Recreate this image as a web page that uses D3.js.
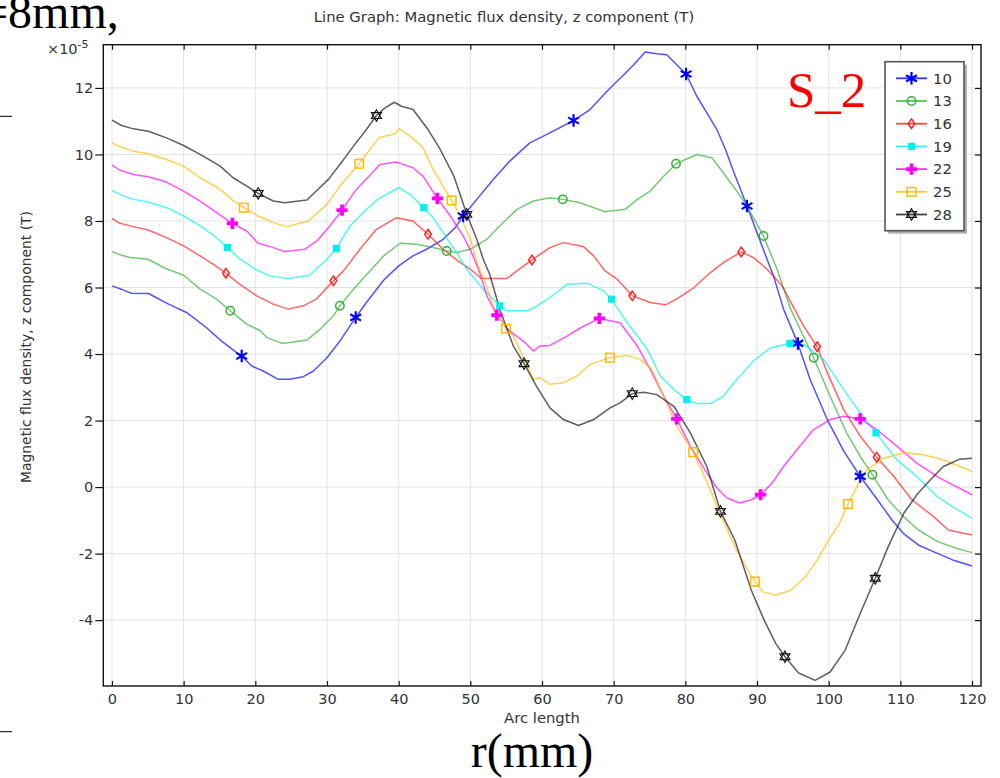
<!DOCTYPE html>
<html>
<head>
<meta charset="utf-8">
<script src="https://cdn.jsdelivr.net/npm/d3@7"></script>
<style>
  html, body { margin: 0; padding: 0; background: #fff; }
  svg { display: block; }
  text { font-family: "DejaVu Sans", sans-serif; fill: #333; }
  .serif { font-family: "Liberation Serif", "Times New Roman", serif; }
</style>
</head>
<body>
<svg id="chart" width="1000" height="778"></svg>
<script>
// ---- data: arc length (mm) vs. Bz (×1e-5 T), one array per series ----
const seriesLabels = ["10", "13", "16", "19", "22", "25", "28"];
const seriesColors = ["#0000ff", "#33b033", "#ff1a1a", "#00f0f0", "#ff00ff", "#ffbb00", "#111111"];
const markerShapes = ["asterisk", "circle", "diamond", "squareFilled", "crossFilled", "squareOpen", "hexagram"];

const curve10 = [[0,6.05],[1.3,5.95],[2.65,5.83],[5.1,5.82],[7.9,5.5],[10.4,5.25],[13.2,4.79],[15.3,4.39],[17.4,4.04],[18.1,3.94],[19.5,3.64],[21.1,3.49],[23.2,3.24],[24.8,3.24],[26.7,3.32],[28.1,3.49],[30,3.89],[31.8,4.39],[34,5.1],[35.5,5.55],[37.9,6.22],[40,6.65],[42,6.95],[43.9,7.15],[46.2,7.45],[47.9,7.8],[49,8.15],[50.9,8.65],[53.2,9.25],[55.5,9.8],[58.3,10.35],[61.1,10.65],[64.4,11.02],[66.7,11.35],[69.5,12.0],[71.2,12.35],[72.8,12.7],[74.4,13.08],[76,13.03],[77.4,13.0],[78.8,12.7],[80.1,12.42],[81.6,11.75],[83,11.25],[84.4,10.75],[85.6,10.15],[86.7,9.5],[88.6,8.45],[90,7.65],[91.4,6.85],[92.3,6.35],[93.7,5.35],[95.7,4.32],[97.4,3.24],[99.8,2.03],[102.1,1.08],[104.4,0.32],[106.8,-0.38],[108.8,-0.98],[110.4,-1.39],[112.5,-1.74],[114.6,-1.94],[117.3,-2.19],[120,-2.37]];
const curve13 = [[0,7.08],[1.2,6.98],[2.5,6.9],[5.07,6.85],[7.4,6.58],[10,6.37],[12.3,5.95],[14.6,5.65],[16.5,5.3],[18.8,4.9],[20.7,4.7],[21.6,4.5],[23.7,4.32],[25.3,4.36],[27.2,4.42],[29,4.74],[30.9,5.15],[31.8,5.45],[33.7,5.95],[35.8,6.45],[37.9,6.95],[40.2,7.33],[42.5,7.3],[44.8,7.2],[46.7,7.1],[48.1,7.05],[50,7.15],[52.3,7.45],[54.1,7.85],[56.5,8.35],[58.8,8.6],[61.1,8.7],[62.9,8.65],[65.3,8.55],[68.8,8.28],[71.6,8.35],[73.3,8.65],[75.1,8.9],[77,9.35],[78.7,9.72],[81.6,10.0],[83.7,9.9],[85.3,9.45],[87,8.95],[88.6,8.45],[90.9,7.55],[92.8,6.55],[94.7,5.35],[97.9,3.89],[100.2,2.73],[102.5,1.63],[104.4,0.92],[106.1,0.37],[108.3,-0.38],[110.4,-0.88],[112.5,-1.29],[115.2,-1.64],[117.8,-1.84],[120,-1.97]];
const curve16 = [[0,8.08],[1.1,7.93],[3,7.83],[5.07,7.73],[7.6,7.5],[10,7.25],[12.3,6.95],[14.1,6.7],[15.9,6.43],[17.8,6.1],[20.2,5.75],[22.5,5.5],[24.6,5.35],[26.7,5.45],[28.5,5.65],[30.9,6.2],[32.3,6.5],[34.6,7.15],[36.9,7.75],[39.7,8.1],[42,8.0],[44.1,7.6],[46.2,7.15],[48.6,6.75],[50,6.55],[51.5,6.28],[55.1,6.27],[56.5,6.5],[58.6,6.83],[61.1,7.2],[63,7.35],[65.8,7.23],[67.2,6.95],[68.8,6.5],[70.5,6.25],[72.6,5.75],[75.1,5.55],[77.2,5.48],[78.8,5.65],[81.2,6.0],[83.5,6.45],[85.3,6.75],[87.8,7.07],[89.5,6.9],[91.4,6.55],[93.5,6.05],[96.5,4.84],[98.4,4.22],[99.8,3.44],[102.1,2.33],[104.4,1.53],[106.7,0.9],[109.1,0.32],[111.6,-0.38],[114.6,-0.88],[116.7,-1.29],[120,-1.44]];
const curve19 = [[0,8.92],[1.1,8.8],[3,8.65],[5.07,8.57],[7.6,8.4],[10,8.15],[12.3,7.85],[14.6,7.5],[16.1,7.2],[17.9,6.85],[20,6.55],[22,6.35],[24.6,6.27],[27.6,6.37],[30,6.85],[31.3,7.17],[33.2,7.85],[35.5,8.35],[37.2,8.67],[40,9.0],[41.6,8.8],[43.5,8.4],[44.8,8.1],[46.2,7.65],[48.1,7.05],[49.5,6.55],[51.8,5.95],[54.1,5.45],[55.1,5.3],[57.8,5.3],[58.8,5.37],[61.1,5.7],[63.5,6.1],[66.3,6.13],[68.6,5.9],[69.7,5.65],[71.9,4.94],[74.7,4.14],[76.5,3.34],[78.4,2.93],[80.2,2.63],[81.6,2.51],[83.5,2.51],[85.3,2.73],[87.2,3.24],[89.5,3.79],[91.9,4.19],[94.6,4.32],[96.5,4.29],[99.3,3.84],[102.1,2.93],[104.4,2.23],[106.6,1.63],[109.5,0.82],[112.3,0.32],[115.1,-0.28],[117.5,-0.62],[120,-0.93]];
const curve22 = [[0,9.68],[1.1,9.53],[3,9.4],[5.07,9.33],[7.6,9.17],[10,8.9],[12.3,8.6],[14.6,8.25],[16.8,7.93],[18.8,7.7],[20.4,7.33],[22.5,7.2],[24.1,7.08],[26.9,7.15],[28.6,7.4],[30.4,7.85],[32.1,8.33],[34.1,8.95],[37.4,9.7],[39.7,9.77],[42,9.6],[43.4,9.35],[45.4,8.68],[47.2,8.15],[49,7.55],[50.4,6.95],[51.3,6.45],[52.3,5.75],[53.7,5.17],[55.5,4.69],[57.4,4.39],[58.8,4.09],[59.7,4.24],[61.1,4.26],[63.5,4.54],[65.4,4.79],[68,5.07],[70.9,4.94],[73.3,4.24],[75.1,3.54],[77,2.73],[78.8,2.05],[80.7,1.23],[83,0.42],[84.5,-0.05],[85.8,-0.33],[87.6,-0.48],[89.2,-0.38],[90.5,-0.23],[92.1,0.12],[93.7,0.62],[95.6,1.13],[97.9,1.73],[100.2,2.03],[102.1,2.13],[104.4,2.05],[106.7,1.73],[109.5,1.23],[112.3,0.72],[115.5,0.27],[120,-0.23]];
const curve25 = [[0,10.35],[1.1,10.23],[3,10.1],[5.07,10.02],[7.6,9.85],[10,9.65],[12.3,9.3],[15.1,8.95],[16.7,8.65],[18.4,8.4],[20.4,8.15],[22.5,7.95],[24.4,7.83],[27.4,8.0],[30,8.5],[31.8,9.05],[34.5,9.72],[37.2,10.5],[39.5,10.62],[40.1,10.77],[41.6,10.55],[43.4,10.2],[44.8,9.55],[46.2,9.05],[47.4,8.62],[48.6,8.15],[50,7.45],[51.1,6.65],[51.8,6.3],[53.2,5.45],[55,4.76],[56,4.54],[57.4,3.9],[58.8,3.24],[59.7,3.29],[61.1,3.09],[63,3.14],[64.9,3.34],[66.7,3.69],[69.5,3.89],[71.9,3.96],[73.7,3.84],[75.3,3.54],[77,2.73],[78.8,1.83],[81.1,1.05],[82.7,0.3],[84,-0.35],[84.8,-0.78],[86.9,-1.79],[88.7,-2.49],[89.7,-2.84],[90.8,-3.15],[92.6,-3.25],[94.7,-3.1],[96.8,-2.69],[98.4,-2.19],[100,-1.59],[101.5,-1.09],[102.7,-0.51],[104.2,0.12],[105.3,0.52],[107.7,0.87],[110.5,1.03],[113.2,0.97],[116,0.82],[120,0.47]];
const curve28 = [[0,11.03],[1.35,10.87],[3,10.77],[5.07,10.7],[7.6,10.5],[10,10.27],[12.3,10.0],[15.1,9.65],[16.9,9.3],[18.8,9.05],[20.4,8.83],[22.5,8.6],[24.1,8.55],[27.2,8.63],[28.1,8.82],[30.2,9.25],[31.8,9.7],[33.7,10.25],[35.5,10.75],[36.9,11.17],[38.1,11.4],[39.4,11.57],[40.4,11.45],[42,11.35],[44.1,10.75],[45.8,10.15],[47.7,9.35],[49.5,8.2],[50.9,7.45],[51.8,6.85],[52.7,6.4],[54.1,5.35],[56,4.24],[57.5,3.71],[59.2,3.04],[61.1,2.38],[63,2.03],[65.1,1.85],[67.2,2.03],[69.5,2.38],[70.9,2.53],[72.6,2.81],[74.2,2.85],[76,2.78],[78.4,2.43],[80.7,1.63],[83,0.62],[84.9,-0.73],[86.9,-1.59],[89.2,-3.1],[91,-4.0],[92.6,-4.7],[93.9,-5.1],[95.8,-5.59],[98.1,-5.81],[100.2,-5.56],[102.3,-4.9],[104.4,-3.8],[106.5,-2.74],[108.3,-1.79],[110.5,-0.78],[112.4,-0.2],[114.2,0.22],[116,0.62],[118.3,0.84],[120,0.87]];

// arc-length positions of the plot markers along each curve
const markers10 = [18.1, 34.0, 49.0, 64.4, 80.1, 88.6, 95.7, 104.4];
const markers13 = [16.5, 31.8, 46.7, 62.9, 78.7, 90.9, 97.9, 106.1];
const markers16 = [15.9, 30.9, 44.1, 58.6, 72.6, 87.8, 98.4, 106.7];
const markers19 = [16.1, 31.3, 43.5, 54.1, 69.7, 80.2, 94.6, 106.6];
const markers22 = [16.8, 32.1, 45.4, 53.7, 68.0, 78.8, 90.5, 104.4];
const markers25 = [18.4, 34.5, 47.4, 55.0, 69.5, 81.1, 89.7, 102.7];
const markers28 = [20.4, 36.9, 49.5, 57.5, 72.6, 84.9, 93.9, 106.5];

const xTickValues = [0, 10, 20, 30, 40, 50, 60, 70, 80, 90, 100, 110, 120];
const yTickValues = [-4, -2, 0, 2, 4, 6, 8, 10, 12];

const curves = [curve10, curve13, curve16, curve19, curve22, curve25, curve28];
const markerSets = [markers10, markers13, markers16, markers19, markers22, markers25, markers28];

// ---- layout ----
const svg = d3.select("#chart");
const plot = { left: 103.3, right: 981, top: 44.7, bottom: 686 };

const x = d3.scaleLinear().domain([-1.21, 121.25]).range([plot.left, plot.right]);
const y = d3.scaleLinear().domain([-5.98, 13.3]).range([plot.bottom, plot.top]);

svg.append("rect").attr("width", 1000).attr("height", 778).attr("fill", "#fff");

// grid
const grid = svg.append("g").attr("stroke", "#e3e3e3").attr("stroke-width", 1);
grid.selectAll(".vx").data(xTickValues).join("line")
  .attr("x1", d => x(d)).attr("x2", d => x(d))
  .attr("y1", plot.top).attr("y2", plot.bottom);
grid.selectAll(".hy").data(yTickValues).join("line")
  .attr("x1", plot.left).attr("x2", plot.right)
  .attr("y1", d => y(d)).attr("y2", d => y(d));

// clip for curves
svg.append("defs").append("clipPath").attr("id", "plotClip")
  .append("rect").attr("x", plot.left).attr("y", plot.top)
  .attr("width", plot.right - plot.left).attr("height", plot.bottom - plot.top);

// marker symbol drawing
function hexagramPath(r) {
  const pts = a => d3.range(3).map(i => {
    const t = (a + i * 120) * Math.PI / 180;
    return [r * Math.cos(t), r * Math.sin(t)];
  });
  const tri = p => "M" + p.map(q => q[0].toFixed(2) + "," + q[1].toFixed(2)).join("L") + "Z";
  return tri(pts(-90)) + tri(pts(90));
}
function drawMarker(sel, shape, color) {
  switch (shape) {
    case "asterisk":
      sel.append("path").attr("d", d3.symbol(d3.symbolAsterisk, 110)())
        .attr("fill", "none").attr("stroke", color).attr("stroke-width", 2.2);
      break;
    case "circle":
      sel.append("circle").attr("r", 4.2).attr("fill", "none")
        .attr("stroke", color).attr("stroke-width", 1.5);
      break;
    case "diamond":
      sel.append("path").attr("d", "M0,-4.8L3.4,0L0,4.8L-3.4,0Z")
        .attr("fill", "none").attr("stroke", color).attr("stroke-width", 1.4);
      break;
    case "squareFilled":
      sel.append("rect").attr("x", -3.6).attr("y", -3.6).attr("width", 7.2).attr("height", 7.2)
        .attr("fill", color);
      break;
    case "crossFilled":
      sel.append("path").attr("d", d3.symbol(d3.symbolCross, 70)()).attr("fill", color);
      break;
    case "squareOpen":
      sel.append("rect").attr("x", -4.3).attr("y", -4.3).attr("width", 8.6).attr("height", 8.6)
        .attr("fill", "none").attr("stroke", color).attr("stroke-width", 1.5);
      break;
    case "hexagram":
      sel.append("path").attr("d", hexagramPath(5.8))
        .attr("fill", "none").attr("stroke", color).attr("stroke-width", 1.1);
      break;
  }
}

// linear interpolation along a curve
const bis = d3.bisector(d => d[0]).left;
function valueAt(data, xv) {
  const i = Math.max(1, Math.min(data.length - 1, bis(data, xv)));
  const a = data[i - 1], b = data[i];
  const t = (xv - a[0]) / (b[0] - a[0]);
  return a[1] + t * (b[1] - a[1]);
}

// curves
const line = d3.line().x(d => x(d[0])).y(d => y(d[1]));
const curveLayer = svg.append("g").attr("clip-path", "url(#plotClip)");
curves.forEach((data, i) => {
  curveLayer.append("path").datum(data)
    .attr("d", line)
    .attr("fill", "none")
    .attr("stroke", seriesColors[i])
    .attr("stroke-opacity", 0.68)
    .attr("stroke-width", 1.5)
    .attr("stroke-linejoin", "round");
});
curves.forEach((data, i) => {
  markerSets[i].forEach(mx => {
    const g = curveLayer.append("g")
      .attr("transform", `translate(${x(mx)},${y(valueAt(data, mx))})`);
    drawMarker(g, markerShapes[i], seriesColors[i]);
  });
});

// axes (plain hyphen for negative labels)
const plainFmt = d => String(d);
const axisColor = "#111";
const xAxis = svg.append("g").attr("transform", `translate(0,${plot.bottom})`)
  .call(d3.axisBottom(x).tickValues(xTickValues).tickFormat(plainFmt)
    .tickSizeInner(-5).tickSizeOuter(0).tickPadding(7.5));
const xAxisTop = svg.append("g").attr("transform", `translate(0,${plot.top})`)
  .call(d3.axisTop(x).tickValues(xTickValues).tickSizeInner(-5).tickSizeOuter(0).tickFormat(""));
const yAxis = svg.append("g").attr("transform", `translate(${plot.left},0)`)
  .call(d3.axisLeft(y).tickValues(yTickValues).tickFormat(plainFmt)
    .tickSizeInner(8).tickSizeOuter(0).tickPadding(2));
const yAxisRight = svg.append("g").attr("transform", `translate(${plot.right},0)`)
  .call(d3.axisRight(y).tickValues(yTickValues).tickSizeInner(-6).tickSizeOuter(0).tickFormat(""));
[xAxis, xAxisTop, yAxis, yAxisRight].forEach(a => {
  a.select(".domain").remove();
  a.selectAll(".tick line").attr("stroke", axisColor).attr("stroke-width", 1.2);
  a.selectAll(".tick text").attr("fill", "#333")
    .style("font-family", "'DejaVu Sans', sans-serif").style("font-size", "14.5px");
});

// frame
svg.append("rect").attr("x", plot.left).attr("y", plot.top)
  .attr("width", plot.right - plot.left).attr("height", plot.bottom - plot.top)
  .attr("fill", "none").attr("stroke", axisColor).attr("stroke-width", 1.4);

// titles
svg.append("text").attr("x", 504).attr("y", 21.5).attr("text-anchor", "middle")
  .style("font-size", "14.8px").text("Line Graph: Magnetic flux density, z component (T)");
svg.append("text").attr("x", 542).attr("y", 723).attr("text-anchor", "middle")
  .style("font-size", "14.8px").text("Arc length");
svg.append("text").attr("transform", "translate(31,347) rotate(-90)").attr("text-anchor", "middle")
  .style("font-size", "13.9px").text("Magnetic flux density, z component (T)");
const expo = svg.append("text").attr("x", 47).attr("y", 53.5).style("font-size", "14.5px");
expo.append("tspan").text("×10");
expo.append("tspan").attr("dy", -6).style("font-size", "11px").text("-5");

// legend
const legend = svg.append("g");
const lg = { x: 885, y: 61.7, w: 79, h: 169 };
legend.append("rect").attr("x", lg.x + 3).attr("y", lg.y + 3).attr("width", lg.w).attr("height", lg.h)
  .attr("fill", "#b0b0b0");
legend.append("rect").attr("x", lg.x).attr("y", lg.y).attr("width", lg.w).attr("height", lg.h)
  .attr("fill", "#fff").attr("stroke", "#555").attr("stroke-width", 1.6);
seriesLabels.forEach((lab, i) => {
  const ly = 78.3 + i * 22.7;
  legend.append("line").attr("x1", 896).attr("x2", 927).attr("y1", ly).attr("y2", ly)
    .attr("stroke", seriesColors[i]).attr("stroke-width", 1.8).attr("stroke-opacity", 0.8);
  const g = legend.append("g").attr("transform", `translate(911.5,${ly})`);
  drawMarker(g, markerShapes[i], seriesColors[i]);
  legend.append("text").attr("x", 933).attr("y", ly + 5.3).style("font-size", "14.8px").text(lab);
});

// annotations
svg.append("text").attr("class", "serif").attr("x", -19).attr("y", 28)
  .style("font-size", "48px").style("fill", "#000").text("=8mm,");
svg.append("text").attr("class", "serif").attr("x", 532).attr("y", 767).attr("text-anchor", "middle")
  .style("font-size", "48px").style("fill", "#000").text("r(mm)");
svg.append("text").attr("class", "serif").attr("x", 787).attr("y", 107)
  .style("font-size", "51px").style("fill", "#ff0000").text("S_2");
svg.append("line").attr("x1", 0).attr("x2", 12).attr("y1", 116.3).attr("y2", 116.3)
  .attr("stroke", "#000").attr("stroke-width", 1);
svg.append("line").attr("x1", 0).attr("x2", 12).attr("y1", 731.7).attr("y2", 731.7)
  .attr("stroke", "#000").attr("stroke-width", 1);
</script>
</body>
</html>
